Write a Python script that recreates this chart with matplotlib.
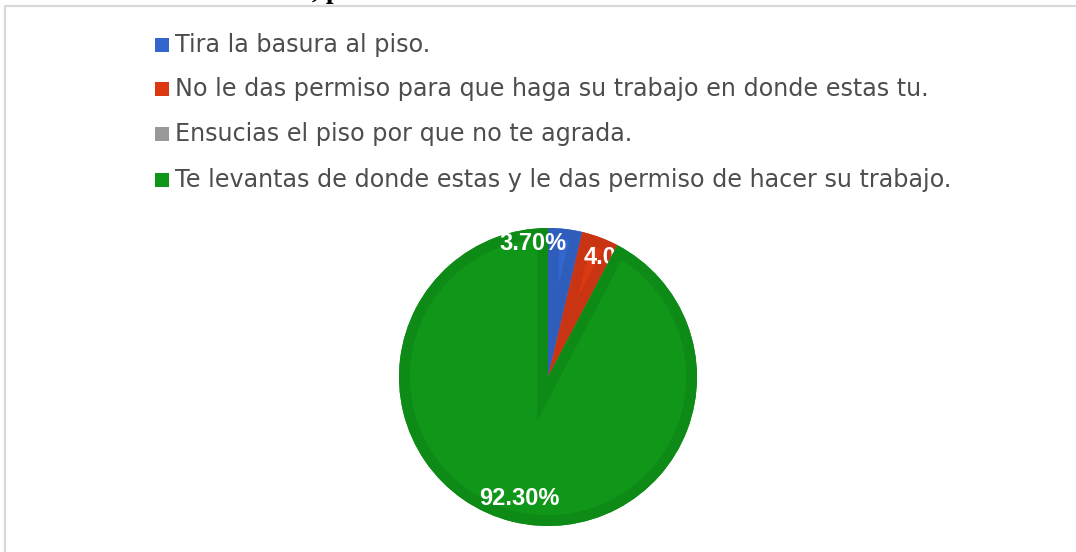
import numpy as np
import matplotlib.pyplot as plt
import matplotlib.transforms as mtransforms
from matplotlib.patches import Rectangle, Wedge

# Datos del gráfico
categorias = [
    "Tira la basura al piso.",
    "No le das permiso para que haga su trabajo en donde estas tu.",
    "Ensucias el piso por que no te agrada.",
    "Te levantas de donde estas y le das permiso de hacer su trabajo.",
]
porcentajes = [3.70, 4.00, 0.00, 92.30]
colores = ["#3366cc", "#dc3912", "#999999", "#109618"]
bordes = ["#2f5dbb", "#c93512", "#8c8c8c", "#0e8a16"]

W, H = 1076, 552
fig = plt.figure(figsize=(W / 100, H / 100), dpi=100)
fig.patch.set_facecolor("white")

# marco gris del recuadro
fig.add_artist(Rectangle((4.5 / W, -0.1), 1.2, 1.1 - 5.5 / H, transform=fig.transFigure,
                         fill=False, edgecolor="#d9d9d9", linewidth=1.6))

# resto del título del documento cortado arriba
fig.text(312 / W, 1 + 2.5 / H, ", p", fontsize=20, fontweight="bold",
         family="Liberation Serif", color="black", va="baseline")

# pastel
cx, cy, r = 548, 377, 149
ax = fig.add_axes([(cx - r) / W, (H - cy - r) / H, 2 * r / W, 2 * r / H])
wedges, _ = ax.pie(porcentajes, colors=colores, startangle=90, counterclock=False,
                   radius=1, wedgeprops=dict(edgecolor="none"))
ax.set_xlim(-1, 1)
ax.set_ylim(-1, 1)
ax.axis("off")

# banda más oscura por dentro de cada porción
for i, (w, b) in enumerate(zip(wedges, bordes)):
    z = 3 if i == 3 else 1
    w.set_zorder(z)
    banda = Wedge(w.center, w.r, w.theta1, w.theta2, fill=False, edgecolor=b,
                  linewidth=15.5, zorder=z + 0.1)
    ax.add_patch(banda)
    banda.set_clip_path(w.get_path(), ax.transData)

# etiquetas de porcentaje
ajuste_ang = [-13, 8.5, 0, 0]
ajuste_rad = [0.93, 0.95, 0.8, 0.81]
bajar = mtransforms.ScaledTranslation(0, -4 / 100, fig.dpi_scale_trans)
inicio = 0.0
total = sum(porcentajes)
for i, p in enumerate(porcentajes):
    mitad = inicio + p / 2
    inicio += p
    if p <= 0:
        continue
    ang = np.deg2rad(mitad / total * 360 + ajuste_ang[i])
    x = ajuste_rad[i] * np.sin(ang)
    y = ajuste_rad[i] * np.cos(ang)
    ax.text(x, y, f"{p:.2f}%", color="white", fontsize=17, fontweight="bold",
            family="Liberation Sans", ha="center", va="center",
            transform=ax.transData + bajar,
            zorder=2 if i == 1 else 5, clip_on=False)

# leyenda
filas_y = [45, 89, 134, 180]
for cat, col, fy in zip(categorias, colores, filas_y):
    fig.add_artist(Rectangle((155 / W, 1 - (fy + 7) / H), 14 / W, 14 / H,
                             transform=fig.transFigure, facecolor=col, edgecolor="none"))
    fig.text(175 / W, 1 - fy / H, cat, fontsize=17.2, family="DejaVu Sans",
             color="#4d4d4d", va="center", ha="left")

plt.savefig("out.png", dpi=100)
